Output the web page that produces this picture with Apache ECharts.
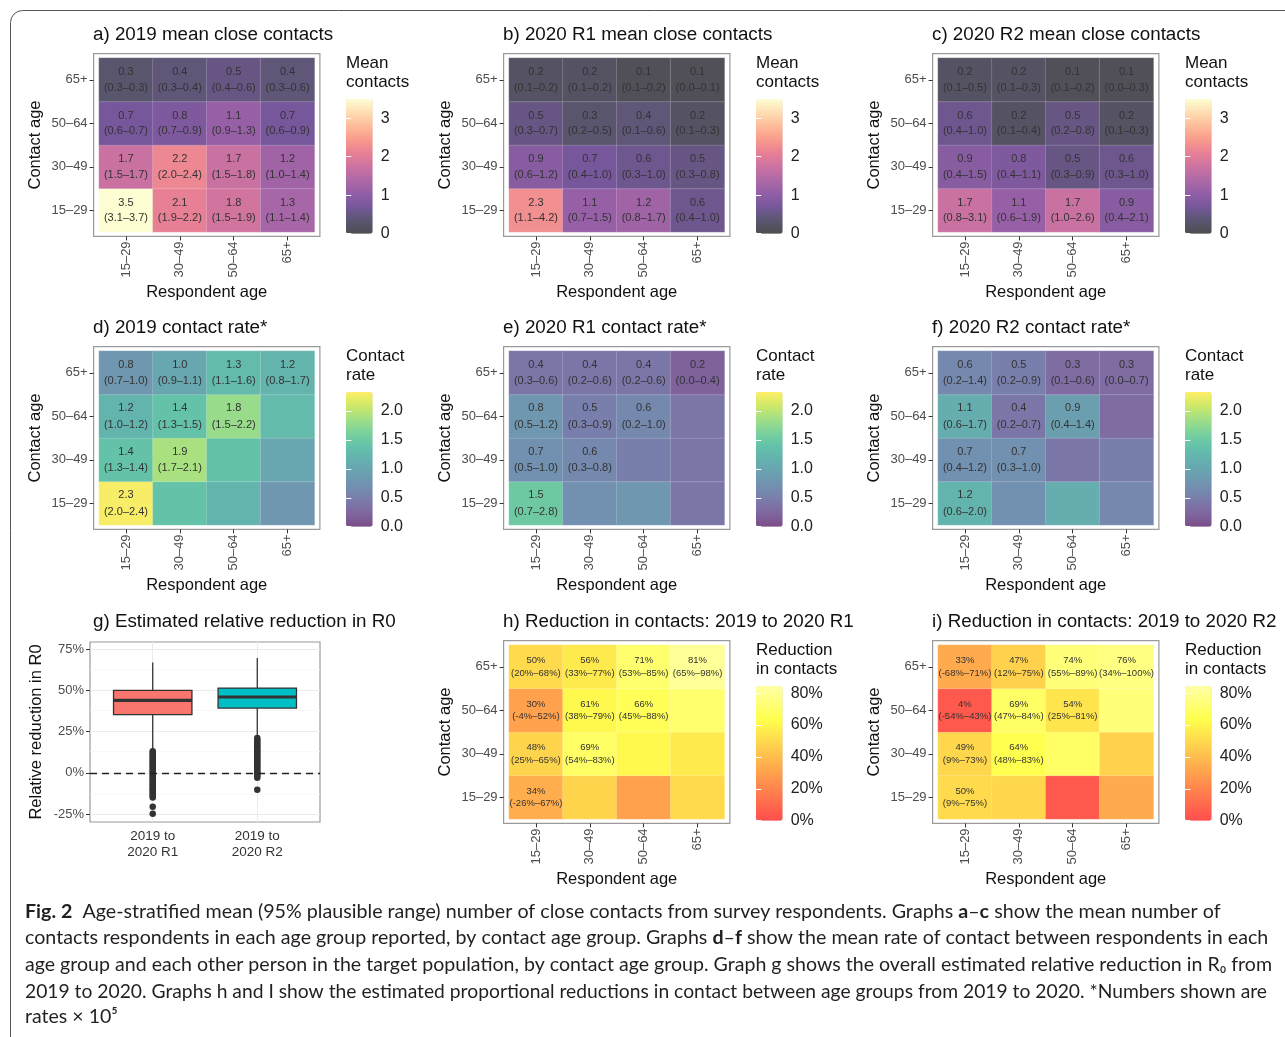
<!DOCTYPE html>
<html>
<head>
<meta charset="utf-8">
<script src="https://cdn.jsdelivr.net/npm/echarts@6/dist/echarts.min.js"></script>
<style>
  html, body { margin: 0; padding: 0; background: #fff; }
  #container { width: 1285px; height: 1037px; }
</style>
</head>
<body>
<div id="container"></div>
<script>
// age groups, bottom to top / left to right
const ages = ['15–29', '30–49', '50–64', '65+'];

// rows = contact age (15–29 .. 65+), columns = respondent age (15–29 .. 65+)
const mean2019   = [[3.5, 2.1, 1.8, 1.3], [1.7, 2.2, 1.7, 1.2], [0.7, 0.8, 1.1, 0.7], [0.3, 0.4, 0.5, 0.4]];
const mean2019Lo = [[3.1, 1.9, 1.5, 1.1], [1.5, 2.0, 1.5, 1.0], [0.6, 0.7, 0.9, 0.6], [0.3, 0.3, 0.4, 0.3]];
const mean2019Hi = [[3.7, 2.2, 1.9, 1.4], [1.7, 2.4, 1.8, 1.4], [0.7, 0.9, 1.3, 0.9], [0.3, 0.4, 0.6, 0.6]];

const meanR1   = [[2.3, 1.1, 1.2, 0.6], [0.9, 0.7, 0.6, 0.5], [0.5, 0.3, 0.4, 0.2], [0.2, 0.2, 0.1, 0.1]];
const meanR1Lo = [[1.1, 0.7, 0.8, 0.4], [0.6, 0.4, 0.3, 0.3], [0.3, 0.2, 0.1, 0.1], [0.1, 0.1, 0.1, 0.0]];
const meanR1Hi = [[4.2, 1.5, 1.7, 1.0], [1.2, 1.0, 1.0, 0.8], [0.7, 0.5, 0.6, 0.3], [0.2, 0.2, 0.2, 0.1]];

const meanR2   = [[1.7, 1.1, 1.7, 0.9], [0.9, 0.8, 0.5, 0.6], [0.6, 0.2, 0.5, 0.2], [0.2, 0.2, 0.1, 0.1]];
const meanR2Lo = [[0.8, 0.6, 1.0, 0.4], [0.4, 0.4, 0.3, 0.3], [0.4, 0.1, 0.2, 0.1], [0.1, 0.1, 0.1, 0.0]];
const meanR2Hi = [[3.1, 1.9, 2.6, 2.1], [1.5, 1.1, 0.9, 1.0], [1.0, 0.4, 0.8, 0.3], [0.5, 0.3, 0.2, 0.3]];

// contact rates (x 10^5); cells without a range are not labelled
const rate2019   = [[2.3, 1.4, 1.2, 0.8], [1.4, 1.9, 1.4, 1.0], [1.2, 1.4, 1.8, 1.3], [0.8, 1.0, 1.3, 1.2]];
const rate2019Lo = [[2.0, null, null, null], [1.3, 1.7, null, null], [1.0, 1.3, 1.5, null], [0.7, 0.9, 1.1, 0.8]];
const rate2019Hi = [[2.4, null, null, null], [1.4, 2.1, null, null], [1.2, 1.5, 2.2, null], [1.0, 1.1, 1.6, 1.7]];

const rateR1   = [[1.5, 0.7, 0.8, 0.4], [0.7, 0.6, 0.5, 0.4], [0.8, 0.5, 0.6, 0.4], [0.4, 0.4, 0.4, 0.2]];
const rateR1Lo = [[0.7, null, null, null], [0.5, 0.3, null, null], [0.5, 0.3, 0.2, null], [0.3, 0.2, 0.2, 0.0]];
const rateR1Hi = [[2.8, null, null, null], [1.0, 0.8, null, null], [1.2, 0.9, 1.0, null], [0.6, 0.6, 0.6, 0.4]];

const rateR2   = [[1.2, 0.7, 1.1, 0.6], [0.7, 0.7, 0.4, 0.5], [1.1, 0.4, 0.9, 0.3], [0.6, 0.5, 0.3, 0.3]];
const rateR2Lo = [[0.6, null, null, null], [0.4, 0.3, null, null], [0.6, 0.2, 0.4, null], [0.2, 0.2, 0.1, 0.0]];
const rateR2Hi = [[2.0, null, null, null], [1.2, 1.0, null, null], [1.7, 0.7, 1.4, null], [1.4, 0.9, 0.6, 0.7]];

// reduction in contacts, %
const redR1   = [[34, 48, 30, 50], [48, 69, 61, 56], [30, 61, 66, 71], [50, 56, 71, 81]];
const redR1Lo = [[-26, null, null, null], [25, 54, null, null], [-4, 38, 45, null], [20, 33, 53, 65]];
const redR1Hi = [[67, null, null, null], [65, 83, null, null], [52, 79, 88, null], [68, 77, 85, 98]];

const redR2   = [[50, 49, 4, 33], [49, 64, 69, 47], [4, 69, 54, 74], [33, 47, 74, 76]];
const redR2Lo = [[9, null, null, null], [9, 48, null, null], [-54, 47, 25, null], [-68, 12, 55, 34]];
const redR2Hi = [[75, null, null, null], [73, 83, null, null], [43, 84, 81, null], [71, 75, 89, 100]];

// g) relative reduction in R0: min, Q1, median, Q3, max per comparison
const boxCats = ['2019 to\n2020 R1', '2019 to\n2020 R2'];
const boxStats = [[0.14, 0.352, 0.438, 0.499, 0.668], [0.215, 0.392, 0.459, 0.513, 0.695]];
const outliersR1 = [0.13, 0.12, 0.11, 0.10, 0.09, 0.08, 0.07, 0.06, 0.05, 0.04, 0.03, 0.02, 0.01, 0.0,
  -0.01, -0.02, -0.03, -0.04, -0.05, -0.06, -0.07, -0.08, -0.09, -0.10, -0.11, -0.12, -0.13, -0.14, -0.15,
  -0.205, -0.248];
const outliersR2 = [0.21, 0.20, 0.19, 0.18, 0.17, 0.16, 0.15, 0.14, 0.13, 0.12, 0.11, 0.10, 0.09, 0.08,
  0.07, 0.06, 0.05, 0.04, 0.03, 0.02, 0.01, 0.0, -0.01, -0.02, -0.03, -0.103];

// legend tick labels
const meanTicks = [0, 1, 2, 3];
const rateTicks = [0, 0.5, 1, 1.5, 2];
const redTicks = [0, 20, 40, 60, 80];
const r0Ticks = [-0.25, 0, 0.25, 0.5, 0.75];

const captionLines = [
  '{b|Fig. 2}  Age-stratified mean (95% plausible range) number of close contacts from survey respondents. Graphs {b|a}–{b|c} show the mean number of',
  'contacts respondents in each age group reported, by contact age group. Graphs {b|d}–{b|f} show the mean rate of contact between respondents in each',
  'age group and each other person in the target population, by contact age group. Graph g shows the overall estimated relative reduction in R₀ from',
  '2019 to 2020. Graphs h and I show the estimated proportional reductions in contact between age groups from 2019 to 2020. *Numbers shown are',
  'rates × 10⁵'
];
const captionWidths = [1195, 1243, 1247, 1242, null];

const FONT = 'Liberation Sans, Arial, sans-serif';
const CAPFONT = 'Lato, sans-serif';
const ALPHA = 0.7;
const magma = ['#000004', '#140E36', '#3B0F70', '#641A80', '#8C2981', '#B73779', '#DE4968', '#F7705C', '#FE9F6D', '#FECF92', '#FCFDBF'];
const viridis = ['#440154', '#482576', '#414487', '#35608D', '#2A788E', '#21908C', '#22A884', '#43BF71', '#7AD151', '#BBDF27', '#FDE725'];
const heat = ['#FF0000', '#FF5500', '#FFAA00', '#FFFF00', '#FFFF80'];

// tile colours are drawn with alpha over white
function fade(hex) {
  const n = parseInt(hex.slice(1), 16);
  const m = c => Math.round(c * ALPHA + 255 * (1 - ALPHA));
  return 'rgb(' + m((n >> 16) & 255) + ',' + m((n >> 8) & 255) + ',' + m(n & 255) + ')';
}

const scales = {
  mean: { max: 3.5, stops: magma, legend: 'Mean\ncontacts', ticks: meanTicks, step: 1,
    fmt: v => v.toFixed(1), tickFmt: v => String(v), fs: 11, lh: 15.5 },
  rate: { max: 2.33, stops: viridis, legend: 'Contact\nrate', ticks: rateTicks, step: 0.5,
    fmt: v => v.toFixed(1), tickFmt: v => v.toFixed(1), fs: 11, lh: 16.5 },
  red: { max: 84.5, stops: heat, legend: 'Reduction\nin contacts', ticks: redTicks, step: 20,
    fmt: v => v + '%', tickFmt: v => v + '%', fs: 9.5, lh: 12.5 }
};

const panels = [
  { title: 'a) 2019 mean close contacts', col: 0, row: 0, val: mean2019, lo: mean2019Lo, hi: mean2019Hi, scale: 'mean' },
  { title: 'b) 2020 R1 mean close contacts', col: 1, row: 0, val: meanR1, lo: meanR1Lo, hi: meanR1Hi, scale: 'mean' },
  { title: 'c) 2020 R2 mean close contacts', col: 2, row: 0, val: meanR2, lo: meanR2Lo, hi: meanR2Hi, scale: 'mean' },
  { title: 'd) 2019 contact rate*', col: 0, row: 1, val: rate2019, lo: rate2019Lo, hi: rate2019Hi, scale: 'rate' },
  { title: 'e) 2020 R1 contact rate*', col: 1, row: 1, val: rateR1, lo: rateR1Lo, hi: rateR1Hi, scale: 'rate' },
  { title: 'f) 2020 R2 contact rate*', col: 2, row: 1, val: rateR2, lo: rateR2Lo, hi: rateR2Hi, scale: 'rate' },
  { title: 'h) Reduction in contacts: 2019 to 2020 R1', col: 1, row: 2, val: redR1, lo: redR1Lo, hi: redR1Hi, scale: 'red' },
  { title: 'i) Reduction in contacts: 2019 to 2020 R2', col: 2, row: 2, val: redR2, lo: redR2Lo, hi: redR2Hi, scale: 'red' }
];

const COLX = [0, 410, 839];
const ROWY = [0, 293, 587];

const grid = [], xAxis = [], yAxis = [], series = [], visualMap = [], title = [];
const tickLabel = { color: '#4d4d4d', fontFamily: FONT, fontSize: 13 };
const axisName = { color: '#111', fontFamily: FONT, fontSize: 16.5 };
const darkTick = { show: true, length: 4, lineStyle: { color: '#333', width: 1 } };

function addTitle(text, left, top) {
  title.push({ text, left, top, padding: 0,
    textStyle: { fontSize: 18.8, fontWeight: 'normal', color: '#111', fontFamily: FONT } });
}

panels.forEach(p => {
  const s = scales[p.scale];
  const dx = COLX[p.col], dy = ROWY[p.row];
  addTitle(p.title, 93 + dx, 25 + dy);

  // panel border
  const gb = grid.length;
  grid.push({ left: 93.6 + dx, top: 53.6 + dy, width: 226.3, height: 182.8, show: true,
    borderColor: '#9a9a9a', borderWidth: 1.2, backgroundColor: 'transparent', outerBoundsMode: 'none' });
  xAxis.push({ gridIndex: gb, type: 'value', show: false });
  yAxis.push({ gridIndex: gb, type: 'value', show: false });

  // tiles
  const gc = grid.length;
  grid.push({ left: 99 + dx, top: 58 + dy, width: 215.5, height: 174, outerBoundsMode: 'none' });
  const xi = xAxis.length, yi = yAxis.length;
  xAxis.push({ gridIndex: gc, type: 'category', data: ages, offset: 4.4,
    axisLine: { show: false }, axisTick: Object.assign({ alignWithLabel: true }, darkTick),
    axisLabel: Object.assign({ rotate: 90, margin: 5 }, tickLabel), splitLine: { show: false },
    name: 'Respondent age', nameLocation: 'middle', nameGap: 48, nameTextStyle: axisName });
  yAxis.push({ gridIndex: gc, type: 'category', data: ages, offset: 5.4,
    axisLine: { show: false }, axisTick: Object.assign({ alignWithLabel: true }, darkTick),
    axisLabel: Object.assign({ margin: 6 }, tickLabel), splitLine: { show: false },
    name: 'Contact age', nameLocation: 'middle', nameGap: 50, nameTextStyle: axisName });

  const data = [];
  p.val.forEach((row, r) => row.forEach((v, c) => data.push([c, r, v])));
  const si = series.length;
  series.push({
    type: 'heatmap', xAxisIndex: xi, yAxisIndex: yi, data,
    itemStyle: { borderColor: 'rgba(255,255,255,0.22)', borderWidth: 0.8 },
    emphasis: { disabled: true },
    label: {
      show: true, color: '#333', fontFamily: FONT, fontSize: s.fs, lineHeight: s.lh,
      formatter: prm => {
        const c = prm.data[0], r = prm.data[1];
        const lo = p.lo[r][c], hi = p.hi[r][c];
        if (lo === null) return '';
        return s.fmt(prm.data[2]) + '\n(' + s.fmt(lo) + '–' + s.fmt(hi) + ')';
      }
    }
  });

  // colour bar
  const lx = 346 + dx, ly = 99 + dy;
  visualMap.push({ type: 'continuous', seriesIndex: si, dimension: 2, min: 0, max: s.max,
    left: lx, top: ly, itemWidth: 26.7, itemHeight: 134.7, padding: 0, calculable: false,
    hoverLink: false, inRange: { color: s.stops.map(fade) } });
  title.push({ text: s.legend, left: lx, top: 53.5 + dy, padding: 0,
    textStyle: { fontSize: 17, lineHeight: 19, fontWeight: 'normal', color: '#111', fontFamily: FONT } });

  const gl = grid.length;
  grid.push({ left: lx, top: ly, width: 26.7, height: 134.7, outerBoundsMode: 'none' });
  xAxis.push({ gridIndex: gl, type: 'value', show: false });
  const whiteTick = { show: true, inside: true, length: 5.3, customValues: s.ticks,
    lineStyle: { color: '#fff', width: 1 } };
  yAxis.push({ gridIndex: gl, type: 'value', position: 'right', min: 0, max: s.max, interval: s.step, z: 10,
    axisLine: { show: false }, splitLine: { show: false }, axisTick: whiteTick,
    axisLabel: { customValues: s.ticks, margin: 8, fontSize: 16, color: '#222',
      fontFamily: FONT, formatter: s.tickFmt } });
  yAxis.push({ gridIndex: gl, type: 'value', position: 'left', min: 0, max: s.max, interval: s.step, z: 10,
    axisLine: { show: false }, splitLine: { show: false }, axisTick: whiteTick, axisLabel: { show: false } });
});

// g) boxplot panel
addTitle('g) Estimated relative reduction in R0', 93, 25 + 587);
const gg = grid.length;
grid.push({ left: 90, top: 642, width: 230, height: 180, show: true, borderColor: '#9a9a9a',
  borderWidth: 1.2, backgroundColor: 'transparent', outerBoundsMode: 'none' });
const gx = xAxis.length, gy = yAxis.length;
xAxis.push({ gridIndex: gg, type: 'value', min: 0.4, max: 2.6,
  axisLine: { show: false },
  axisTick: Object.assign({ customValues: [1, 2] }, darkTick),
  axisLabel: Object.assign({ customValues: [1, 2], margin: 7, lineHeight: 15.5,
    formatter: v => boxCats[Math.round(v) - 1] || '' }, tickLabel, { fontSize: 13.5, color: '#333' }),
  splitLine: { show: true, lineStyle: { color: '#ebebeb', width: 1 } } });
yAxis.push({ gridIndex: gg, type: 'value', min: -0.298, max: 0.792,
  axisLine: { show: false },
  axisTick: Object.assign({ customValues: r0Ticks }, darkTick),
  axisLabel: Object.assign({ customValues: r0Ticks, margin: 6,
    formatter: v => Math.round(v * 100) + '%' }, tickLabel),
  splitLine: { show: true, lineStyle: { color: '#ebebeb', width: 1 } },
  name: 'Relative reduction in R0', nameLocation: 'middle', nameGap: 45, nameTextStyle: axisName });

const boxColors = ['#F8766D', '#00BFC4'];
series.push({
  type: 'custom', xAxisIndex: gx, yAxisIndex: gy,
  data: boxStats.map((b, i) => [i + 1].concat(b)),
  encode: { x: 0, y: [1, 2, 3, 4, 5] },
  z: 2,
  renderItem: (params, api) => {
    const x = api.value(0);
    const pMin = api.coord([x, api.value(1)]);
    const pQ1 = api.coord([x, api.value(2)]);
    const pMed = api.coord([x, api.value(3)]);
    const pQ3 = api.coord([x, api.value(4)]);
    const pMax = api.coord([x, api.value(5)]);
    const w = api.size([0.75, 0])[0];
    const stroke = { stroke: '#333', lineWidth: 1.3 };
    return { type: 'group', children: [
      { type: 'line', shape: { x1: pMin[0], y1: pMin[1], x2: pQ1[0], y2: pQ1[1] }, style: stroke },
      { type: 'line', shape: { x1: pQ3[0], y1: pQ3[1], x2: pMax[0], y2: pMax[1] }, style: stroke },
      { type: 'rect', shape: { x: pQ1[0] - w / 2, y: pQ3[1], width: w, height: pQ1[1] - pQ3[1] },
        style: Object.assign({ fill: boxColors[params.dataIndex] }, stroke) },
      { type: 'line', shape: { x1: pMed[0] - w / 2, y1: pMed[1], x2: pMed[0] + w / 2, y2: pMed[1] },
        style: { stroke: '#333', lineWidth: 3.2 } }
    ] };
  },
  markLine: { silent: true, symbol: 'none', z: 1, label: { show: false },
    lineStyle: { color: '#f5f5f5', width: 0.7, type: 'solid' },
    data: [{ yAxis: -0.125 }, { yAxis: 0.125 }, { yAxis: 0.375 }, { yAxis: 0.625 }] }
});
series.push({
  type: 'scatter', xAxisIndex: gx, yAxisIndex: gy, z: 3,
  data: outliersR1.map(v => [1, v]).concat(outliersR2.map(v => [2, v])),
  symbolSize: 6.5, itemStyle: { color: '#333', opacity: 1 },
  markLine: { silent: true, symbol: 'none', label: { show: false },
    lineStyle: { color: '#222', width: 1.4, type: [7, 5] },
    data: [{ yAxis: 0 }] }
});

// caption: each Lato line is fitted to its printed width
const ctx = document.createElement('canvas').getContext('2d');
const CAPSIZE = 18;
ctx.font = CAPSIZE + 'px Lato';
const strip = t => t.replace(/\{b\|([^}]*)\}/g, '$1');
const fits = captionWidths.map((w, i) => w ? w / ctx.measureText(strip(captionLines[i])).width : null);
const meanFit = fits.filter(f => f).reduce((a, b) => a + b, 0) / 4;
const capY = [912, 938, 965, 992, 1017];

const graphic = [{
  type: 'rect', shape: { x: 10.5, y: 10.5, width: 1320, height: 1060, r: 12 },
  style: { fill: 'none', stroke: '#555', lineWidth: 1 }, silent: true
}];
captionLines.forEach((t, i) => {
  graphic.push({
    type: 'text', x: 25, y: capY[i], silent: true,
    scaleX: fits[i] || meanFit, scaleY: meanFit,
    style: {
      text: t, fill: '#231f20', font: CAPSIZE + 'px ' + CAPFONT,
      verticalAlign: 'middle', align: 'left',
      rich: { b: { fontWeight: 'bold', fontSize: CAPSIZE, fontFamily: CAPFONT, fill: '#231f20' } }
    }
  });
});

const chart = echarts.init(document.getElementById('container'), null, { renderer: 'canvas' });
chart.setOption({
  animation: false,
  backgroundColor: '#fff',
  textStyle: { fontFamily: FONT },
  title, grid, xAxis, yAxis, visualMap, series, graphic
});
</script>
</body>
</html>
